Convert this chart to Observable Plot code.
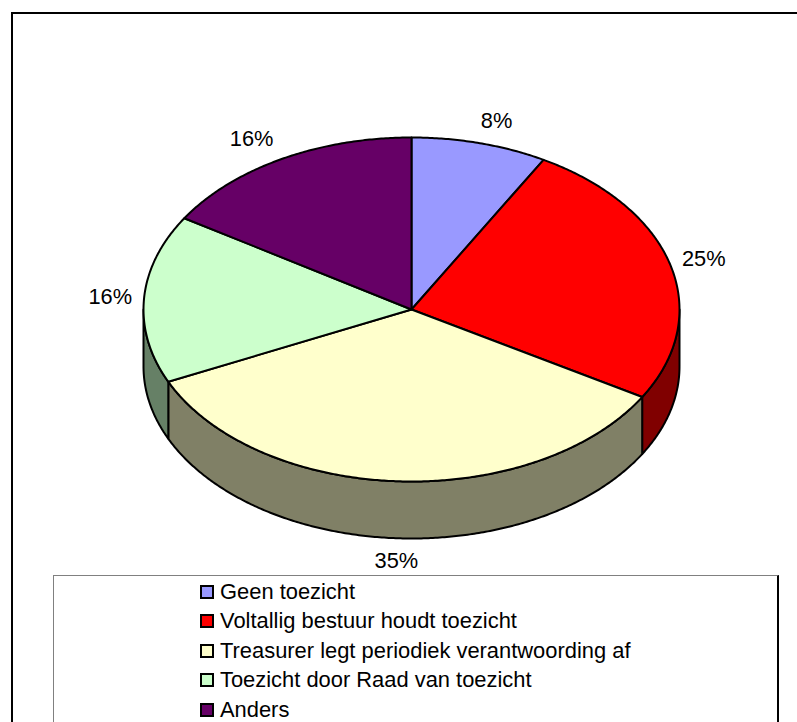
<!DOCTYPE html>
<html><head><meta charset="utf-8">
<script src="https://cdn.jsdelivr.net/npm/d3@7"></script>
<script src="https://cdn.jsdelivr.net/npm/@observablehq/plot@0.6"></script>
<style>
body{margin:0;background:#fff;}
#wrap{position:relative;width:797px;height:722px;overflow:hidden;font-family:"Liberation Sans",Arial,sans-serif;}
#chart{position:absolute;left:0;top:0;}
#frame{position:absolute;left:11px;top:12px;width:820px;height:760px;border:2px solid #000;pointer-events:none;}
#legend{position:absolute;left:53px;top:575px;width:726px;height:200px;border:1.5px solid #808080;border-right:2px solid #000;background:#fff;box-sizing:border-box;padding-top:0.5px;padding-left:146px;}
.row{height:29.5px;line-height:29.5px;font-size:21.9px;color:#000;white-space:nowrap;}
.sw{display:inline-block;width:14px;height:14px;box-sizing:border-box;border:2px solid #000;margin-right:6px;vertical-align:baseline;}
</style></head><body>
<div id="wrap"><div id="chart"></div><div id="frame"></div><div id="legend"></div></div>
<script>
const categories = ["Geen toezicht","Voltallig bestuur houdt toezicht","Treasurer legt periodiek verantwoording af","Toezicht door Raad van toezicht","Anders"];
const values = [8.2, 25.3, 34.6, 15.8, 16.1];
const labels = ["8%","25%","35%","16%","16%"];
const topColors = ["#9999FF","#FF0000","#FFFFCC","#CCFFCC","#660066"];
const sideColors = ["#4D4D80","#800000","#808066","#668066","#330033"];

// layout
const W = 797, H = 575;
const cx = 411, cy = 309, rx = 268, ry = 172, depth = 57;
const fs = 21.8;
const rad = d => d * Math.PI / 180;
const pt = (deg, dz = 0) => [cx + rx * Math.sin(rad(deg)), cy - ry * Math.cos(rad(deg)) + dz];
const arc = (a0, a1, dz) => {
  const n = Math.max(2, Math.ceil((a1 - a0) / 0.5));
  return d3.range(n + 1).map(k => pt(a0 + (a1 - a0) * k / n, dz));
};

const total = d3.sum(values);
let acc = 0;
const slices = values.map((v, i) => {
  const a0 = acc / total * 360; acc += v; const a1 = acc / total * 360;
  return {i, a0, a1};
});

const sideRows = [];
for (const s of slices) {
  const lo = Math.max(s.a0, 90), hi = Math.min(s.a1, 270);
  if (hi > lo) {
    const pts = arc(lo, hi, 0).concat(arc(lo, hi, depth).reverse());
    pts.push(pts[0]);
    pts.forEach(([x, y]) => sideRows.push({id: "s" + s.i, x, y, fill: sideColors[s.i]}));
  }
}
const topRows = [];
for (const s of slices) {
  const pts = [[cx, cy], ...arc(s.a0, s.a1, 0), [cx, cy]];
  pts.forEach(([x, y]) => topRows.push({id: "t" + s.i, x, y, fill: topColors[s.i]}));
}
const labelRows = slices.map(s => {
  const m = (s.a0 + s.a1) / 2;
  const sn = Math.sin(rad(m)), cs = Math.cos(rad(m));
  const P = pt(m, cs < 0 ? depth : 0);
  const lab = labels[s.i];
  const w = ((lab.length - 1) * 0.556 + 0.889) * fs;
  const extra = cs > 0 ? sn * cs * cs * cs * 42 : 0;
  return {x: P[0] + sn * (w / 2 + 12) + extra, y: P[1] - cs * 23, text: lab};
});

const chart = Plot.plot({
  width: W, height: H, margin: 0,
  x: {domain: [0, W], range: [0, W], axis: null},
  y: {domain: [0, H], range: [0, H], axis: null},
  color: {type: "identity"},
  style: {fontFamily: "'Liberation Sans', Arial, sans-serif", background: "white"},
  marks: [
    Plot.line(sideRows, {x: "x", y: "y", z: "id", fill: "fill", stroke: "#000", strokeWidth: 2, strokeLinejoin: "round", curve: "linear"}),
    Plot.line(topRows, {x: "x", y: "y", z: "id", fill: "fill", stroke: "#000", strokeWidth: 2, strokeLinejoin: "round", curve: "linear"}),
    Plot.text(labelRows, {x: "x", y: "y", text: "text", fontSize: fs, fill: "#000", textAnchor: "middle", lineAnchor: "middle"})
  ]
});
document.getElementById("chart").appendChild(chart);

const leg = d3.select("#legend");
categories.forEach((c, i) => {
  const r = leg.append("div").attr("class", "row");
  r.append("span").attr("class", "sw").style("background", topColors[i]);
  r.append("span").text(c);
});
</script>
</body></html>
